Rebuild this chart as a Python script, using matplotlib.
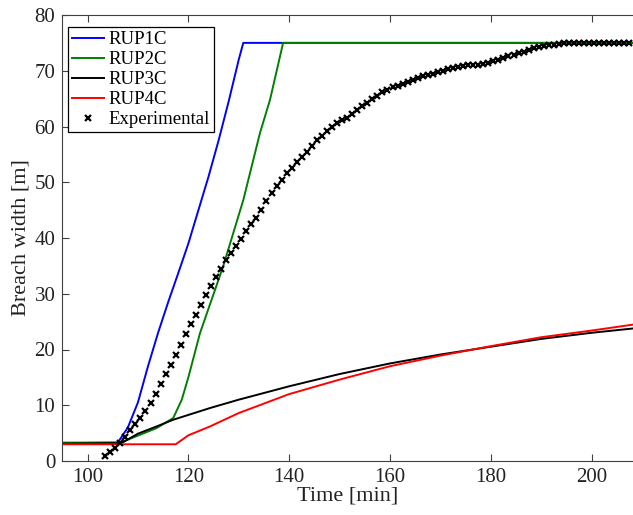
import matplotlib
matplotlib.use("Agg")
import matplotlib.pyplot as plt
import numpy as np

plt.rcParams['font.family'] = ['Liberation Serif', 'DejaVu Serif']
plt.rcParams['mathtext.fontset'] = 'stix'

# model results
t_rup1 = [95, 106, 108, 110, 112, 114, 116, 118, 120, 122, 124, 126, 128, 130, 130.9, 208.5]
w_rup1 = [3.2, 3.3, 6.0, 10.5, 17.0, 23.0, 28.5, 33.7, 39.0, 45.0, 51.0, 57.5, 64.5, 72.0, 75.0, 75.0]

t_rup2 = [95, 106, 107.1, 110.4, 113.7, 117.0, 118.7, 120.0, 122.3, 126.9, 130.9, 134.2, 136.2, 138.8, 208.5]
w_rup2 = [3.3, 3.3, 3.5, 4.7, 5.9, 7.7, 11.0, 15.0, 22.9, 34.9, 46.8, 58.8, 64.8, 75.0, 75.0]

t_rup3 = [95, 106, 107.1, 110, 113.7, 117, 124.3, 130, 140, 150, 160, 170, 180, 190, 200, 208.5]
w_rup3 = [3.1, 3.2, 3.4, 4.9, 6.2, 7.4, 9.5, 11.0, 13.4, 15.6, 17.5, 19.1, 20.5, 21.9, 23.0, 23.8]

t_rup4 = [95, 117.5, 120, 124.3, 130, 140, 150, 160, 170, 180, 190, 200, 208.5]
w_rup4 = [3.0, 3.0, 4.6, 6.2, 8.6, 12.0, 14.6, 17.0, 18.9, 20.6, 22.2, 23.4, 24.5]

# experimental (one sample per minute)
t_exp = np.arange(103.5, 208, 1.0)
w_exp = [0.9, 1.6, 2.4, 3.3, 4.3, 5.5, 6.6, 7.7, 9.0, 10.4,
         12.0, 13.8, 15.6, 17.2, 19.0, 20.8, 22.8, 24.6, 26.2, 28.0,
         29.8, 31.4, 33.0, 34.5, 36.0, 37.3, 38.5, 39.8, 41.2, 42.5,
         43.6, 45.0, 46.6, 48.0, 49.3, 50.4, 51.6, 52.6, 53.6, 54.6,
         55.5, 56.5, 57.5, 58.3, 59.2, 60.0, 60.6, 61.1, 61.6, 62.2,
         62.9, 63.6, 64.3, 64.9, 65.5, 66.1, 66.6, 67.0, 67.3, 67.7,
         68.0, 68.4, 68.7, 69.0, 69.3, 69.5, 69.8, 70.0, 70.3, 70.5,
         70.7, 70.9, 71.0, 71.1, 71.1, 71.2, 71.4, 71.7, 72.0, 72.3,
         72.6, 72.9, 73.1, 73.4, 73.7, 74.0, 74.2, 74.4, 74.6, 74.7,
         74.8, 74.9, 74.9, 74.9, 74.9, 74.9, 74.9, 74.9, 74.9, 74.9,
         74.9, 74.9, 74.9, 74.9, 74.9]

fig = plt.figure(figsize=(6.33, 5.15), dpi=100)
ax = fig.add_axes([62.3/633, 54/515, 1 - 62.3/633, 446/515])

ax.plot(t_rup1, w_rup1, color='#0000ff', lw=1.4, label='RUP1C')
ax.plot(t_rup2, w_rup2, color='#007f00', lw=1.4, label='RUP2C')
ax.plot(t_rup3, w_rup3, color='black', lw=1.4, label='RUP3C')
ax.plot(t_rup4, w_rup4, color='#ff0000', lw=1.4, label='RUP4C')
ax.plot(t_exp, w_exp, 'x', color='black', ms=5, mew=1.6, label='Experimental')

ax.set_xlim(95, 208.2)
ax.set_ylim(0, 80)
ax.set_xticks([100, 120, 140, 160, 180, 200])
ax.set_yticks(range(0, 81, 10))
ax.tick_params(direction='in', top=True, right=False, length=5, width=0.8,
               colors='#404040', labelcolor='#222222', labelsize=15, pad=5)
for s in ['left', 'bottom', 'top']:
    ax.spines[s].set_color('#404040')
ax.spines['right'].set_visible(False)

ax.set_xlabel('Time [min]', fontsize=16, color='#222222', labelpad=0)
ax.set_ylabel('Breach width [m]', fontsize=16, color='#222222', labelpad=3)

leg = ax.legend(loc='upper left', bbox_to_anchor=(0.0105, 0.972), borderaxespad=0,
                fontsize=13.5, fancybox=False, edgecolor='black', framealpha=1,
                handlelength=1.7, handletextpad=0.25, labelspacing=0.15,
                borderpad=0.2)
leg.get_frame().set_linewidth(0.9)

fig.savefig('out.png', dpi=100)
